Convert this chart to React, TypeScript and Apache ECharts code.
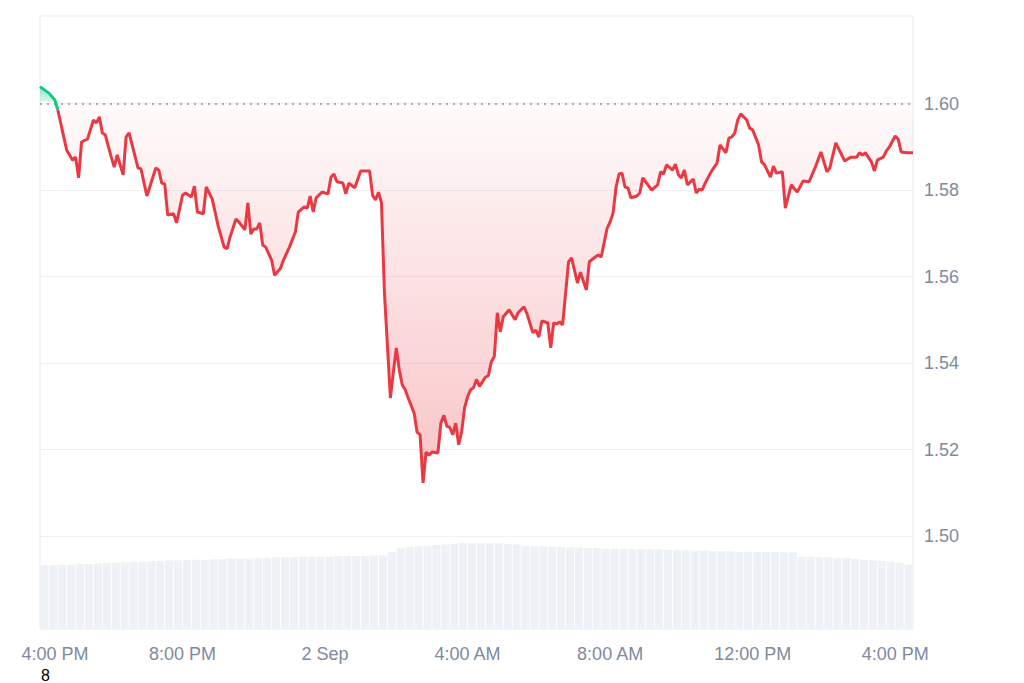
import React, { useEffect, useRef } from 'react';
import * as echarts from 'echarts';

// opening/reference price (dotted line)
const BASE = 1.6004;

// minutes since 1 Sep 4:00 PM
const times = [0,15,25,30,40,45,55,60,65,70,80,90,95,100,105,110,120,125,130,140,145,150,165,170,180,195,200,205,210,215,225,230,240,245,255,260,265,275,280,290,300,310,315,320,330,335,345,350,355,360,365,370,375,380,390,395,405,410,420,430,435,445,450,455,460,465,475,480,485,490,495,500,510,515,520,530,540,555,560,565,570,575,580,590,595,600,605,610,615,620,630,635,640,645,650,655,660,670,675,680,685,690,695,700,705,710,715,720,725,730,735,740,750,755,760,765,770,775,780,790,800,805,815,820,830,835,840,845,855,860,865,870,875,880,890,895,905,910,920,925,935,940,945,955,960,965,970,975,980,985,990,995,1005,1010,1015,1030,1040,1045,1050,1055,1065,1070,1075,1080,1085,1090,1100,1105,1110,1115,1120,1130,1140,1145,1155,1160,1165,1170,1175,1180,1190,1195,1200,1210,1215,1220,1230,1235,1240,1250,1255,1265,1275,1285,1295,1305,1315,1325,1330,1340,1350,1355,1365,1375,1380,1385,1390,1400,1405,1410,1420,1425,1430,1440,1445,1450,1460,1470];

const prices = [1.6039,1.6024,1.6008,1.5985,1.5923,1.5892,1.5869,1.5876,1.5828,1.5911,1.5918,1.5962,1.5955,1.5969,1.5932,1.5927,1.5876,1.5853,1.5881,1.5835,1.5923,1.5932,1.5851,1.5849,1.5786,1.5851,1.5846,1.5816,1.5814,1.5742,1.5745,1.5724,1.5788,1.5793,1.5784,1.5809,1.5749,1.5745,1.5807,1.5779,1.5717,1.5668,1.5664,1.5691,1.5733,1.5726,1.5708,1.5770,1.5698,1.5710,1.5710,1.5724,1.5673,1.5668,1.5638,1.5603,1.5619,1.5638,1.5668,1.5703,1.5749,1.5761,1.5758,1.5786,1.5749,1.5782,1.5795,1.5793,1.5791,1.5830,1.5837,1.5819,1.5816,1.5791,1.5816,1.5805,1.5844,1.5844,1.5788,1.5777,1.5795,1.5770,1.5562,1.5319,1.5379,1.5435,1.5384,1.5349,1.5338,1.5319,1.5284,1.5240,1.5234,1.5123,1.5194,1.5187,1.5194,1.5192,1.5261,1.5279,1.5254,1.5251,1.5234,1.5261,1.5211,1.5241,1.5297,1.5322,1.5338,1.5343,1.5362,1.5346,1.5367,1.5371,1.5403,1.5415,1.5516,1.5472,1.5507,1.5523,1.5500,1.5516,1.5530,1.5514,1.5470,1.5476,1.5460,1.5497,1.5493,1.5435,1.5493,1.5490,1.5495,1.5488,1.5634,1.5643,1.5585,1.5610,1.5569,1.5634,1.5645,1.5650,1.5645,1.5712,1.5726,1.5747,1.5807,1.5837,1.5839,1.5807,1.5805,1.5782,1.5786,1.5793,1.5828,1.5800,1.5812,1.5842,1.5837,1.5858,1.5846,1.5860,1.5835,1.5828,1.5846,1.5812,1.5825,1.5793,1.5802,1.5800,1.5816,1.5842,1.5862,1.5904,1.5886,1.5920,1.5923,1.5932,1.5962,1.5976,1.5962,1.5943,1.5939,1.5904,1.5865,1.5858,1.5830,1.5855,1.5839,1.5842,1.5758,1.5812,1.5795,1.5821,1.5819,1.5851,1.5888,1.5842,1.5851,1.5909,1.5881,1.5867,1.5876,1.5876,1.5886,1.5881,1.5886,1.5865,1.5844,1.5869,1.5876,1.5890,1.5899,1.5925,1.5918,1.5888,1.5886,1.5886];

// volume per 15-minute interval (arbitrary units), bar drawn at the interval's middle
const VOL_STEP = 15;
const volumes = [10.4,10.4,10.5,10.5,10.6,10.6,10.7,10.8,10.8,10.9,11.0,11.0,11.1,11.1,11.2,11.2,11.3,11.3,11.3,11.4,11.4,11.5,11.5,11.5,11.6,11.6,11.7,11.7,11.7,11.8,11.8,11.8,11.8,11.9,11.9,11.9,11.9,12.0,12.0,12.6,13.2,13.4,13.5,13.6,13.7,13.8,13.9,14.0,14.0,14.0,14.0,14.0,13.9,13.8,13.6,13.5,13.5,13.4,13.4,13.3,13.3,13.2,13.2,13.1,13.1,13.1,13.0,13.0,13.0,13.0,12.9,12.9,12.9,12.8,12.8,12.7,12.7,12.7,12.6,12.6,12.6,12.6,12.6,12.5,12.5,11.8,11.8,11.7,11.7,11.6,11.6,11.4,11.3,11.2,11.1,11.0,10.8,10.5];

const xTickLabels: Record<number, string> = {
  0: '4:00 PM',
  240: '8:00 PM',
  480: '2 Sep',
  720: '4:00 AM',
  960: '8:00 AM',
  1200: '12:00 PM',
  1440: '4:00 PM',
};

const FONT = '"Liberation Sans", Arial, Helvetica, sans-serif';
const LABEL_COLOR = '#808a9d';
const RED = '#ea3943';
const GREEN = '#16c784';
const GRID_LINE = '#eff1f4';
const NONE = 'rgba(0,0,0,0)';

// area between the price line and the reference price, drawn through the axes' scales
function bandSeries(clampFn: (p: number) => number, gradient: any, z: number) {
  return {
    type: 'custom', xAxisIndex: 0, yAxisIndex: 0, silent: true, z,
    data: [0],
    renderItem: (_params: any, api: any) => {
      const pts: number[][] = times.map((t, i) => api.coord([t, clampFn(prices[i])]));
      pts.push(api.coord([times[times.length - 1], BASE]));
      pts.push(api.coord([times[0], BASE]));
      return { type: 'polygon', shape: { points: pts }, style: { fill: gradient } };
    },
  };
}

export default function App() {
  const ref = useRef<HTMLDivElement>(null);
  useEffect(() => {
    if (!ref.current) return;
    const chart = echarts.init(ref.current, null, { renderer: 'svg' });
    const pts = times.map((t, i) => [t, prices[i]]);
    // leading run above the reference price
    let k = 0;
    while (k + 1 < prices.length && prices[k + 1] > BASE) k++;
    const greenLine = pts.slice(0, k + 2);
    const redLine = pts.slice(k + 1);
    const volPts = volumes.map((v, i) => [(i + 0.5) * VOL_STEP, v]);
    const tMax = times[times.length - 1];

    const redFill = new echarts.graphic.LinearGradient(0, 0, 0, 1, [
      { offset: 0, color: 'rgba(234,57,67,0.02)' },
      { offset: 1, color: 'rgba(234,57,67,0.30)' },
    ]);
    const greenFill = new echarts.graphic.LinearGradient(0, 0, 0, 1, [
      { offset: 0, color: 'rgba(22,199,132,0.45)' },
      { offset: 1, color: 'rgba(22,199,132,0.15)' },
    ]);

    chart.setOption({
      animation: false,
      grid: [
        { left: 40, right: 111, top: 17, bottom: 60.5 },
        {
          left: 40, right: 111, top: 16, bottom: 54,
          show: true, borderColor: '#e9ebee', borderWidth: 1, backgroundColor: 'transparent',
        },
      ],
      xAxis: [
        { type: 'value', gridIndex: 0, min: 0, max: tMax, show: false },
        {
          type: 'value', gridIndex: 1, min: 0, max: tMax, interval: 240,
          axisLine: { show: false }, axisTick: { show: false }, splitLine: { show: false },
          axisLabel: {
            color: LABEL_COLOR, fontSize: 18, fontFamily: FONT, margin: 16,
            formatter: (v: number) => (v === 0 ? '{first|' + xTickLabels[0] + '}' : (xTickLabels[v] ?? '')),
            rich: {
              first: { color: LABEL_COLOR, fontSize: 18, fontFamily: FONT, padding: [0, 0, 0, 30] },
            },
          },
        },
      ],
      yAxis: [
        {
          type: 'value', gridIndex: 0, position: 'right', min: 1.48, max: 1.62, interval: 0.02,
          axisLine: { show: false }, axisTick: { show: false },
          splitLine: {
            show: true,
            lineStyle: { color: [NONE, GRID_LINE, GRID_LINE, GRID_LINE, GRID_LINE, GRID_LINE, GRID_LINE, NONE], width: 1 },
          },
          axisLabel: {
            color: LABEL_COLOR, fontSize: 18, fontFamily: FONT, margin: 11,
            showMinLabel: false, showMaxLabel: false,
            formatter: (v: number) => v.toFixed(2),
          },
        },
        { type: 'value', gridIndex: 1, min: 0, max: 100, show: false },
      ],
      graphic: [
        {
          type: 'text', left: 41, top: 667,
          style: { text: '8', fill: '#000000', fontSize: 16, fontFamily: FONT },
        },
      ],
      series: [
        {
          type: 'bar', xAxisIndex: 1, yAxisIndex: 1, data: volPts, barWidth: 8,
          itemStyle: { color: '#eef2f6' }, silent: true,
        },
        bandSeries((p) => Math.min(p, BASE), redFill, 2),
        bandSeries((p) => Math.max(p, BASE), greenFill, 2),
        {
          type: 'line', xAxisIndex: 0, yAxisIndex: 0, data: redLine, symbol: 'none', silent: true,
          lineStyle: { width: 3, color: RED }, itemStyle: { color: RED }, z: 5,
          markLine: {
            silent: true, symbol: 'none', label: { show: false },
            lineStyle: { type: [2, 5], color: '#8f97a3', width: 1.6 },
            data: [{ yAxis: BASE }],
          },
        },
        {
          type: 'line', xAxisIndex: 0, yAxisIndex: 0, data: greenLine, symbol: 'none', silent: true,
          lineStyle: { width: 3, color: GREEN }, itemStyle: { color: GREEN }, z: 6,
        },
      ],
    });
    return () => chart.dispose();
  }, []);
  return <div ref={ref} style={{ position: 'absolute', left: 0, top: 0, width: 1024, height: 683 }} />;
}
